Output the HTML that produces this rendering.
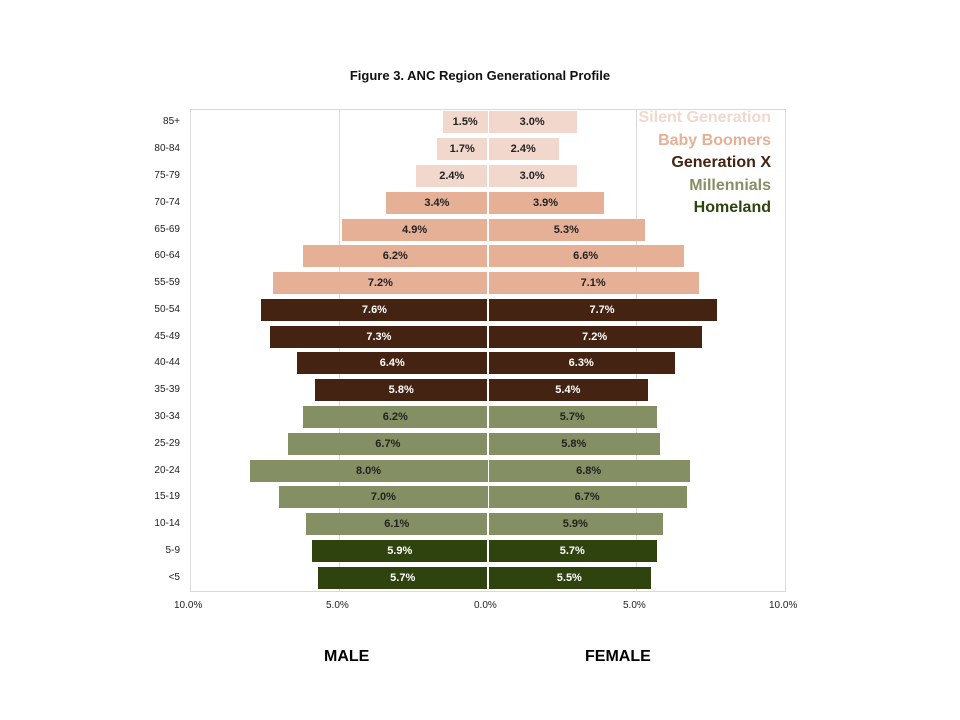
<!DOCTYPE html>
<html><head><meta charset="utf-8"><style>
body{margin:0;width:960px;height:720px;background:#fff;font-family:"Liberation Sans",sans-serif;position:relative;overflow:hidden}
.a{position:absolute}
.bar{position:absolute;height:22px}
.lbl{position:absolute;font-size:11px;font-weight:bold;text-align:center;line-height:22px}
.tick{position:absolute;font-size:10px;color:#222}
</style></head><body>
<div class="a" style="left:0;width:960px;top:68px;text-align:center;font-size:13px;font-weight:bold;color:#111">Figure 3. ANC Region Generational Profile</div>
<div class="a" style="left:190px;top:109px;width:594px;height:481px;border:1px solid #d9d9d9"></div>
<div class="a" style="left:339px;top:109px;width:1px;height:482px;background:#d9d9d9"></div>
<div class="a" style="left:636px;top:109px;width:1px;height:482px;background:#d9d9d9"></div>
<div id="c"></div>
<div class="a" style="left:600px;top:107px;width:171px;text-align:right;font-size:16px;font-weight:bold;line-height:22.5px">
<div style="color:#f2d7cc">Silent Generation</div>
<div style="color:#e6b097">Baby Boomers</div>
<div style="color:#452312">Generation X</div>
<div style="color:#848f63">Millennials</div>
<div style="color:#2f430f">Homeland</div>
</div>
<div class="tick" style="left:174px;top:600px">10.0%</div>
<div class="tick" style="left:326px;top:600px">5.0%</div>
<div class="tick" style="left:474px;top:600px">0.0%</div>
<div class="tick" style="left:623px;top:600px">5.0%</div>
<div class="tick" style="left:769px;top:600px">10.0%</div>
<div class="a" style="left:324px;top:648px;font-size:16px;font-weight:bold">MALE</div>
<div class="a" style="left:585px;top:648px;font-size:16px;font-weight:bold">FEMALE</div>
<script>
var d=[["85+",1.5,3.0,0],["80-84",1.7,2.4,0],["75-79",2.4,3.0,0],["70-74",3.4,3.9,1],["65-69",4.9,5.3,1],["60-64",6.2,6.6,1],["55-59",7.2,7.1,1],["50-54",7.6,7.7,2],["45-49",7.3,7.2,2],["40-44",6.4,6.3,2],["35-39",5.8,5.4,2],["30-34",6.2,5.7,3],["25-29",6.7,5.8,3],["20-24",8.0,6.8,3],["15-19",7.0,6.7,3],["10-14",6.1,5.9,3],["5-9",5.9,5.7,4],["<5",5.7,5.5,4]];
var col=["#f2d7cc","#e6b097","#452312","#848f63","#2f430f"],tc=["#222","#222","#fff","#222","#fff"];
var s=29.75,cx=487.5,h="";
d.forEach(function(r,i){var y=109+26.78*(i+0.5)-11;var m=r[1]*s,f=r[2]*s,c=col[r[3]],t=tc[r[3]];
h+='<div class="bar" style="left:'+(cx-m)+'px;width:'+m+'px;top:'+y+'px;background:'+c+'"></div>';
h+='<div class="bar" style="left:'+(cx+1)+'px;width:'+(f-1)+'px;top:'+y+'px;background:'+c+'"></div>';
h+='<div class="lbl" style="left:'+(cx-m)+'px;width:'+m+'px;top:'+y+'px;color:'+t+'">'+r[1].toFixed(1)+'%</div>';
h+='<div class="lbl" style="left:'+cx+'px;width:'+f+'px;top:'+y+'px;color:'+t+'">'+r[2].toFixed(1)+'%</div>';
h+='<div class="tick" style="left:120px;width:60px;text-align:right;top:'+(y+5)+'px">'+r[0].replace("<","&lt;")+'</div>';});
document.getElementById("c").innerHTML=h;
</script>
</body></html>
